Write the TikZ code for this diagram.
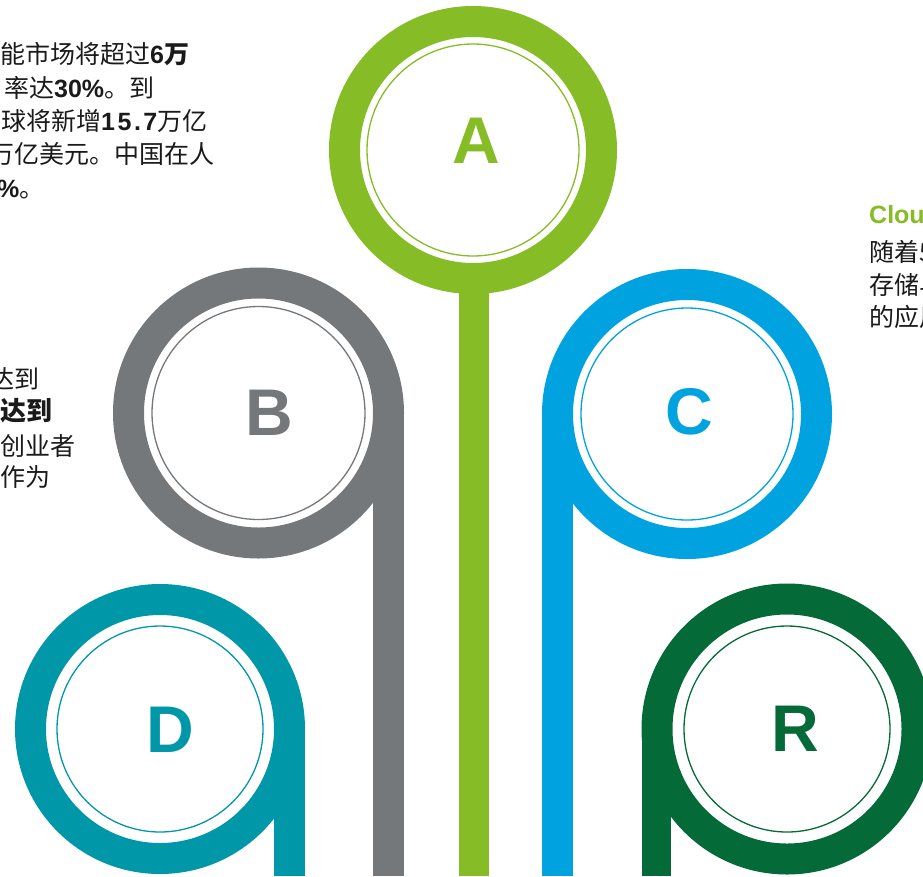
\documentclass[tikz,border=0pt]{standalone}
\usepackage{fontspec}
\setmainfont{Noto Sans CJK SC}
\newfontfamily\lat{Liberation Sans}
\definecolor{cgreen}{HTML}{86BC25}
\definecolor{cgray}{HTML}{75787B}
\definecolor{cblue}{HTML}{00A3E0}
\definecolor{cteal}{HTML}{0097A9}
\definecolor{cdark}{HTML}{046A38}
\definecolor{txtcol}{HTML}{1A1A1A}
\newcommand\bnum[1]{{\lat\bfseries #1}}
\begin{document}
\begin{tikzpicture}[x=1pt,y=-1pt,
  ringline/.style={line width=31pt},
  thinring/.style={line width=1.3pt},
  letter/.style={font=\lat\bfseries\fontsize{66}{66}\selectfont, inner sep=0pt, anchor=center},
  txt/.style={anchor=base west, inner sep=0pt, font=\fontsize{25}{33}\selectfont, text=txtcol}]
\useasboundingbox (0,0) rectangle (923,876);
\clip (0,0) rectangle (923,876);

% ---- A (green, top centre)
\coordinate (cA) at (473,150);
\fill[cgreen] (459,280) rectangle (489,876);
\draw[ringline, cgreen] (cA) circle (128.5);
\draw[thinring, cgreen] (cA) circle (106);
\node[letter, text=cgreen] (lA) at (476,141) {A};

% ---- B (gray)
\coordinate (cB) at (258.5,413);
\fill[cgray] (373,413) rectangle (404,876);
\draw[ringline, cgray] (cB) circle (130);
\draw[thinring, cgray] (cB) circle (106.5);
\node[letter, text=cgray] (lB) at (269,413) {B};

% ---- C (blue)
\coordinate (cC) at (687,414);
\fill[cblue] (542,414) rectangle (573,876);
\draw[ringline, cblue] (cC) circle (129.5);
\draw[thinring, cblue] (cC) circle (106);
\node[letter, text=cblue] (lC) at (689,412) {C};

% ---- D (teal)
\coordinate (cD) at (160,729);
\fill[cteal] (274,729) rectangle (305,876);
\draw[ringline, cteal] (cD) circle (129.5);
\draw[thinring, cteal] (cD) circle (103);
\node[letter, text=cteal] (lD) at (170,730) {D};

% ---- R (dark green)
\coordinate (cR) at (787,729);
\fill[cdark] (642,729) rectangle (671,876);
\draw[ringline, cdark] (cR) circle (130);
\draw[thinring, cdark] (cR) circle (103);
\node[letter, text=cdark] (lR) at (795,729) {R};

% ---- top-left text
\node[txt] (t1) at (0,63) {能市场将超过\bnum{6}\textbf{万}};
\node[txt] (t2) at (4,97) {率达\bnum{30\%}。到};
\node[txt] (t3) at (1,130) {球将新增\bnum{1\kern2.5pt 5\kern2.5pt .\kern2.5pt 7}万亿};
\node[txt] (t4) at (-11,163) {万亿美元。中国在人};
\node[txt] (t5) at (-3,197) {\bnum{\%}。};

% ---- middle-left text
\node[txt] (m1) at (-11,388) {达到};
\node[txt, font=\fontsize{26}{33}\selectfont\bfseries] (m2) at (0,420) {达到};
\node[txt] (m3) at (0,455) {创业者};
\node[txt] (m4) at (0,486) {作为};

% ---- right text
\node[txt, font=\lat\bfseries\fontsize{25}{33}\selectfont, text=cgreen] (r0) at (869,223) {Cloud};
\node[txt] (r1) at (869,261) {随着5};
\node[txt] (r2) at (869,294) {存储与};
\node[txt] (r3) at (869,326) {的应用};
\end{tikzpicture}
\end{document}
